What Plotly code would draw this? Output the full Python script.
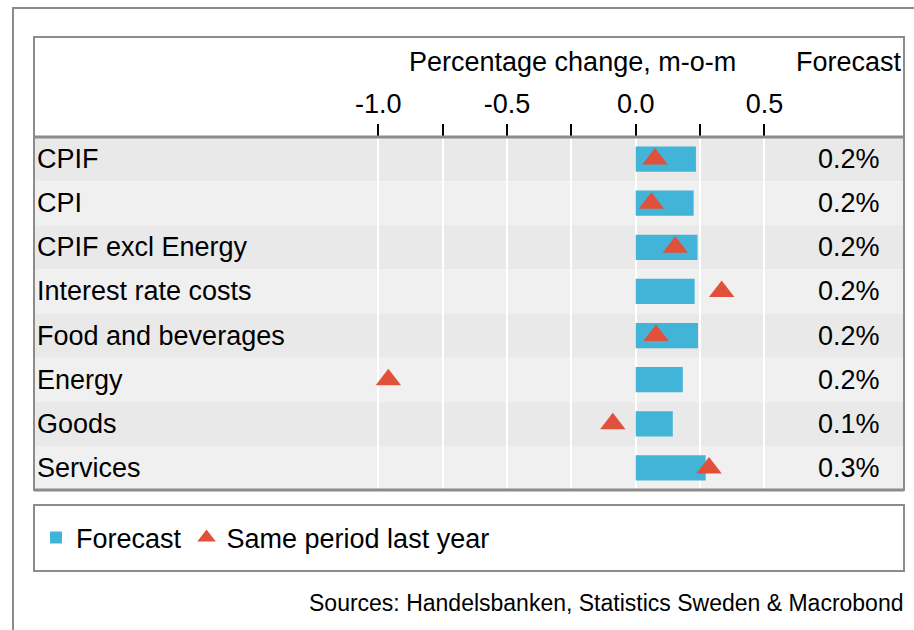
import plotly.graph_objects as go

W, H = 914, 630

categories = ["CPIF", "CPI", "CPIF excl Energy", "Interest rate costs",
              "Food and beverages", "Energy", "Goods", "Services"]
forecast = [0.234, 0.225, 0.240, 0.229, 0.242, 0.183, 0.144, 0.272]
last_year = [0.075, 0.061, 0.154, 0.334, 0.079, -0.961, -0.089, 0.285]
forecast_labels = ["0.2%", "0.2%", "0.2%", "0.2%", "0.2%", "0.2%", "0.1%", "0.3%"]
tick_vals = [-1.0, -0.75, -0.5, -0.25, 0.0, 0.25, 0.5]
tick_text = ["-1.0", "", "-0.5", "", "0.0", "", "0.5"]

FONT = "Liberation Sans, Arial, sans-serif"
FS = 27
BLUE = "#42b4d8"
RED = "#e0503b"
GRAY = "#8c8c8c"

def px(x):
    return x / W

def py(y):
    return 1 - y / H

# plot geometry (pixels)
x_left, x_right = 350, 790
y_top, y_bot = 137, 490
zero_px, unit_px = 635.7, 257.4

fig = go.Figure()
fig.add_trace(go.Bar(
    x=forecast, y=categories, orientation="h", name="Forecast",
    marker=dict(color=BLUE, line=dict(width=0)), width=0.57,
))
fig.add_trace(go.Scatter(
    x=last_year, y=categories, mode="markers", name="Same period last year",
    marker=dict(symbol="triangle-up", size=22, color=RED),
))

shapes = []
for i, c in enumerate(categories):
    shapes.append(dict(type="rect", xref="paper", yref="y",
                       x0=px(34), x1=px(904), y0=i - 0.5, y1=i + 0.5,
                       fillcolor="#e9e9e9" if i % 2 == 0 else "#f0f0f0",
                       line=dict(width=0), layer="below"))
shapes.append(dict(type="rect", xref="paper", yref="paper",
                   x0=px(13), x1=px(930), y0=py(8), y1=py(660),
                   line=dict(color=GRAY, width=2), fillcolor="rgba(0,0,0,0)"))
shapes.append(dict(type="rect", xref="paper", yref="paper",
                   x0=px(34), x1=px(904), y0=py(37), y1=py(490),
                   line=dict(color=GRAY, width=2), fillcolor="rgba(0,0,0,0)"))
for yy in (y_top, y_bot):
    shapes.append(dict(type="line", xref="paper", yref="paper",
                       x0=px(34), x1=px(904), y0=py(yy), y1=py(yy),
                       line=dict(color=GRAY, width=3)))
shapes.append(dict(type="rect", xref="paper", yref="paper",
                   x0=px(34), x1=px(904), y0=py(505), y1=py(571),
                   line=dict(color=GRAY, width=2), fillcolor="rgba(0,0,0,0)"))

annotations = []
for i, c in enumerate(categories):
    annotations.append(dict(text=c, xref="paper", yref="y", x=px(35), y=c,
                            xanchor="left", yanchor="middle", showarrow=False,
                            font=dict(size=FS, color="black", family=FONT)))
    annotations.append(dict(text=forecast_labels[i], xref="paper", yref="y",
                            x=px(882), y=c, xanchor="right", yanchor="middle",
                            showarrow=False,
                            font=dict(size=FS, color="black", family=FONT)))
annotations.append(dict(text="Percentage change, m-o-m", xref="paper", yref="paper",
                        x=px(572), y=py(62), xanchor="center", yanchor="middle",
                        showarrow=False, font=dict(size=FS, color="black", family=FONT)))
annotations.append(dict(text="Forecast", xref="paper", yref="paper",
                        x=px(904), y=py(62), xanchor="right", yanchor="middle",
                        showarrow=False, font=dict(size=FS, color="black", family=FONT)))
annotations.append(dict(text="Sources: Handelsbanken, Statistics Sweden & Macrobond",
                        xref="paper", yref="paper", x=px(906), y=py(603),
                        xanchor="right", yanchor="middle", showarrow=False,
                        font=dict(size=23, color="black", family=FONT)))

x_range = [(x_left - zero_px) / unit_px, (x_right - zero_px) / unit_px]

fig.update_layout(
    width=W, height=H, autosize=False,
    margin=dict(l=0, r=0, t=0, b=0),
    paper_bgcolor="white", plot_bgcolor="rgba(0,0,0,0)",
    font=dict(family=FONT, size=FS, color="black"),
    xaxis=dict(domain=[px(x_left), px(x_right)], range=x_range, side="top",
               tickvals=tick_vals, ticktext=tick_text, ticks="outside",
               ticklen=12, tickwidth=2, tickcolor="black",
               showgrid=True, gridcolor="white", gridwidth=2,
               zeroline=False, showline=False,
               tickfont=dict(size=FS, family=FONT, color="black")),
    yaxis=dict(domain=[py(y_bot), py(y_top)], categoryorder="array",
               categoryarray=categories, range=[7.5, -0.5],
               showticklabels=False, showgrid=False, zeroline=False,
               showline=False, ticks=""),
    showlegend=True,
    legend=dict(orientation="h", x=px(36), y=py(538), xanchor="left",
                yanchor="middle", bgcolor="rgba(0,0,0,0)",
                font=dict(size=FS, family=FONT, color="black"),
                itemwidth=30, tracegroupgap=0),
    shapes=shapes, annotations=annotations, bargap=0.43,
)

fig.write_html("out.html", config={"displayModeBar": False},
               post_script="document.body.style.margin='0px';document.body.style.overflow='hidden';")
